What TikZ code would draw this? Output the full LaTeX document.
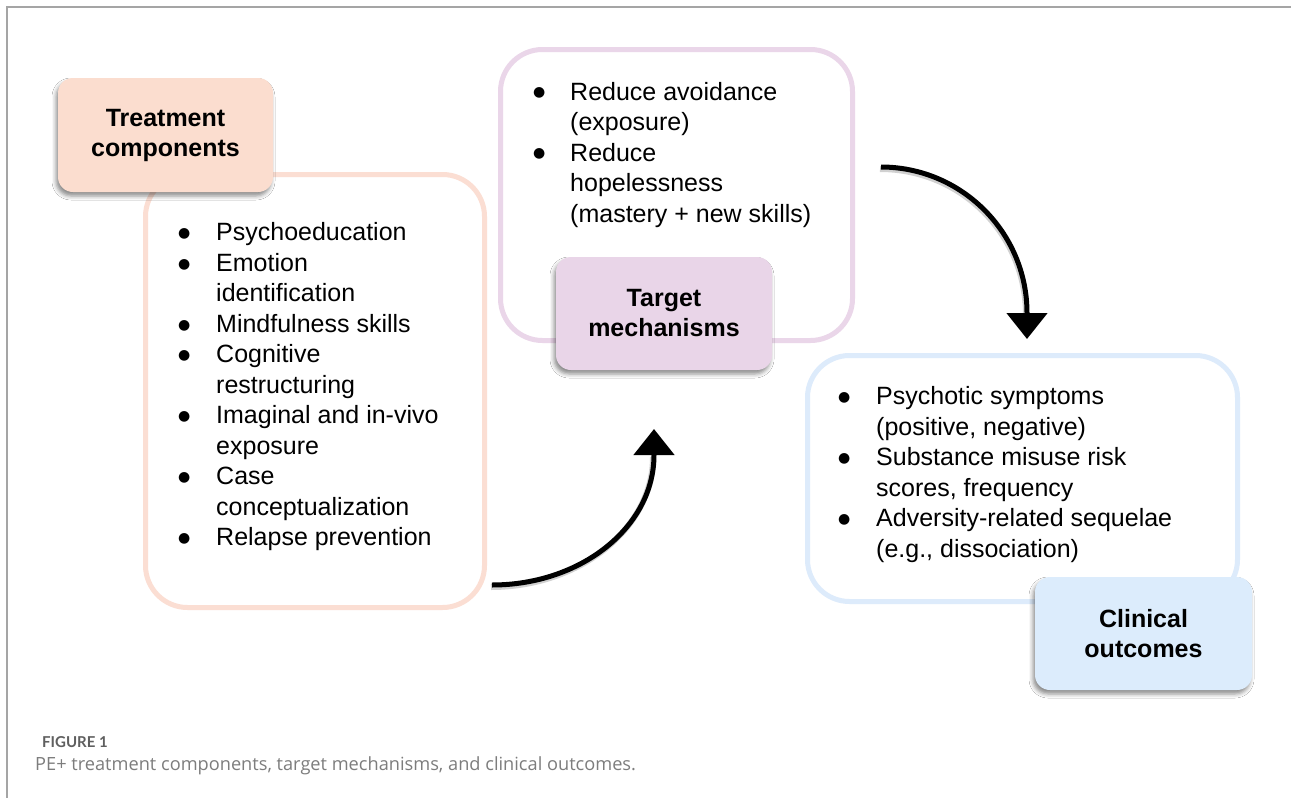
\documentclass[tikz,border=0pt]{standalone}
\usepackage{fontspec}
\setmainfont{Liberation Sans}
\newfontfamily\capfont{Lato}
\newfontfamily\captextfont{Open Sans}
\newfontfamily\dotfont{DejaVu Sans}
\usetikzlibrary{arrows.meta,shadows.blur}

\definecolor{framegray}{RGB}{165,165,165}
\definecolor{peachline}{RGB}{251,222,211}
\definecolor{peachfill}{RGB}{251,221,207}
\definecolor{lilacline}{RGB}{234,214,233}
\definecolor{lilacfill}{RGB}{233,213,232}
\definecolor{skyline}{RGB}{221,235,251}
\definecolor{skyfill}{RGB}{220,236,252}
\definecolor{capdark}{RGB}{95,95,95}
\definecolor{caplight}{RGB}{125,125,125}

% list bullet: a round dot set a little above the line's centre
\newcommand{\bul}{\raisebox{3.4pt}{\dotfont\fontsize{14}{14}\selectfont ●}}

\begin{document}
\begin{tikzpicture}[x=1pt,y=-1pt,
  panel/.style={draw, line width=5pt, rounded corners=42pt, inner sep=0pt},
  tag/.style={rounded corners=15pt, inner sep=0pt, align=center,
    minimum width=216pt, minimum height=113pt,
    font=\fontsize{25}{30}\selectfont\bfseries,
    blur shadow={shadow xshift=-2pt, shadow yshift=-4pt,
      shadow blur radius=4pt, shadow opacity=45}},
  flow/.style={line width=5pt, -{Triangle[width=40pt,length=26pt]}},
  flowshade/.style={line width=6pt, black, opacity=0.18},
  itemlist/.style={anchor=north west, inner sep=0pt, align=left,
    font=\fontsize{25}{30.5}\selectfont}
]
\useasboundingbox (0,0) rectangle (1291,798);
\fill[white] (0,0) rectangle (1291,798);

% frame edges
\draw[framegray, line width=1.3pt] (7,798) -- (7,7) -- (1291,7);

% content panels
\node[panel, draw=peachline, minimum width=339pt, minimum height=433pt] (treatbox) at (315,391) {};
\node[panel, draw=lilacline, minimum width=352pt, minimum height=291pt] (targetbox) at (676.5,195) {};
\node[panel, draw=skyline, minimum width=430pt, minimum height=246pt] (clinbox) at (1022.5,478.5) {};

% bullet lists
\node[itemlist] (treatlist) at (178,219.4) {%
\begin{tabular}{@{}p{38pt}@{}l@{}}
\bul & Psychoeducation\\
\bul & Emotion\\
     & identification\\
\bul & Mindfulness skills\\
\bul & Cognitive\\
     & restructuring\\
\bul & Imaginal and in-vivo\\
     & exposure\\
\bul & Case\\
     & conceptualization\\
\bul & Relapse prevention
\end{tabular}};

\node[itemlist] (targetlist) at (533,78.7) {%
\begin{tabular}{@{}p{37pt}@{}l@{}}
\bul & Reduce avoidance\\
     & (exposure)\\
\bul & Reduce\\
     & hopelessness\\
     & (mastery + new skills)
\end{tabular}};

\node[itemlist] (clinlist) at (838,383) {%
\begin{tabular}{@{}p{38pt}@{}l@{}}
\bul & Psychotic symptoms\\
     & (positive, negative)\\
\bul & Substance misuse risk\\
     & scores, frequency\\
\bul & Adversity-related sequelae\\
     & (e.g., dissociation)
\end{tabular}};

% heading tags
\node[tag, fill=peachfill, minimum width=215pt, minimum height=114pt] (treattag) at (165.5,135) {Treatment\\components};
\node[tag, fill=lilacfill] (targettag) at (664,313.5) {Target\\mechanisms};
\node[tag, fill=skyfill, minimum width=217pt] (clintag) at (1143.5,633.5) {Clinical\\outcomes};

% flow arrows
\coordinate (a1s) at (492,585);
\coordinate (a1e) at (654,429);
\coordinate (a2s) at (881,167);
\coordinate (a2e) at (1027,339);

\draw[flowshade] ([shift={(-1,2)}]a1s) .. controls (580,587) and (653,528) .. (653,457);
\draw[flowshade] ([shift={(-1,2)}]a2s) .. controls (961,169) and (1026,234) .. (1026,315);

\draw[flow] (a1s) .. controls (581,585) and (654,527) .. (654,455) -- (a1e);
\draw[flow] (a2s) .. controls (961,167) and (1027,232) .. (1027,313) -- (a2e);

% caption
\node[anchor=base west, inner sep=0pt, text=capdark,
  font=\capfont\bfseries\fontsize{15}{18}\selectfont] (capfig) at (42,747) {FIGURE 1};
\node[anchor=base west, inner sep=0pt, text=caplight,
  font=\captextfont\fontsize{18.2}{21}\selectfont] (captext) at (35,770) {PE+ treatment components, target mechanisms, and clinical outcomes.};
\end{tikzpicture}
\end{document}
